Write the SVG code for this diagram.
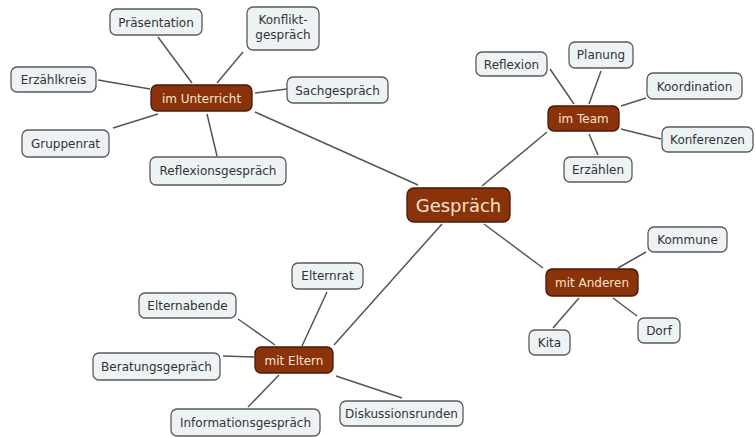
<svg xmlns="http://www.w3.org/2000/svg" width="756" height="437" viewBox="0 0 756 437">
<style>
.leaf rect{fill:#edf2f5;stroke:#5a5a5a;stroke-width:1.3}
.leaf text{fill:#333;font-family:"DejaVu Sans",Verdana,sans-serif;font-size:12px;text-anchor:middle}
.br rect{fill:#8a3208;stroke:#4a1808;stroke-width:1.3}
.br text{fill:#f7e4d2;font-family:"DejaVu Sans",Verdana,sans-serif;font-size:12px;text-anchor:middle}
.root text{font-size:18px}
#connectors line{stroke:#555;stroke-width:1.5}
</style>
<rect width="756" height="437" fill="#fff"/>
<g id="connectors">
<line x1="255" y1="112" x2="418" y2="185"/>
<line x1="482" y1="186" x2="547" y2="132"/>
<line x1="484" y1="224" x2="543" y2="268"/>
<line x1="442" y1="224" x2="334" y2="345"/>
<line x1="158" y1="37" x2="192" y2="83"/>
<line x1="243" y1="52" x2="217" y2="83"/>
<line x1="98" y1="80" x2="150" y2="89"/>
<line x1="255" y1="93" x2="287" y2="89"/>
<line x1="113" y1="128" x2="158" y2="114"/>
<line x1="207" y1="114" x2="217" y2="156"/>
<line x1="550" y1="69" x2="574" y2="104"/>
<line x1="601" y1="71" x2="589" y2="104"/>
<line x1="646" y1="98" x2="621" y2="106"/>
<line x1="661" y1="139" x2="621" y2="129"/>
<line x1="589" y1="134" x2="598" y2="155"/>
<line x1="646" y1="252" x2="618" y2="268"/>
<line x1="579" y1="298" x2="553" y2="328"/>
<line x1="613" y1="298" x2="637" y2="316"/>
<line x1="238" y1="319" x2="275" y2="345"/>
<line x1="327" y1="292" x2="302" y2="346"/>
<line x1="223" y1="356" x2="254" y2="357"/>
<line x1="279" y1="375" x2="248" y2="407"/>
<line x1="336" y1="376" x2="402" y2="398"/>
</g>
<g id="gespraech" class="br root"><rect x="407" y="188" width="103" height="34" rx="7"/><text x="458.5" y="211.5">Gespräch</text></g>
<g id="unterricht" class="br"><rect x="151" y="85" width="101" height="26" rx="6"/><text x="201.5" y="102.5">im Unterricht</text></g>
<g id="team" class="br"><rect x="548" y="106" width="71" height="25" rx="6"/><text x="583.5" y="123">im Team</text></g>
<g id="anderen" class="br"><rect x="546" y="269" width="92" height="27" rx="6"/><text x="592" y="286.5">mit Anderen</text></g>
<g id="eltern" class="br"><rect x="255" y="347" width="78" height="26" rx="6"/><text x="294" y="364.5">mit Eltern</text></g>
<g id="praesentation" class="leaf"><rect x="110" y="9" width="92" height="26" rx="6"/><text x="156" y="26.5">Präsentation</text></g>
<g id="konflikt" class="leaf"><rect x="247" y="7" width="72" height="43" rx="6"/><text x="283" y="24">Konflikt-</text><text x="283" y="39">gespräch</text></g>
<g id="erzaehlkreis" class="leaf"><rect x="11" y="67" width="85" height="25" rx="6"/><text x="53.5" y="84">Erzählkreis</text></g>
<g id="sachgespraech" class="leaf"><rect x="287" y="77" width="101" height="26" rx="6"/><text x="337.5" y="94.5">Sachgespräch</text></g>
<g id="gruppenrat" class="leaf"><rect x="22" y="130" width="87" height="27" rx="6"/><text x="65.5" y="147.5">Gruppenrat</text></g>
<g id="reflexionsgespraech" class="leaf"><rect x="150" y="157" width="136" height="28" rx="6"/><text x="218" y="175">Reflexionsgespräch</text></g>
<g id="reflexion" class="leaf"><rect x="476" y="52" width="71" height="24" rx="6"/><text x="511.5" y="68.5">Reflexion</text></g>
<g id="planung" class="leaf"><rect x="569" y="42" width="64" height="26" rx="6"/><text x="601" y="59">Planung</text></g>
<g id="koordination" class="leaf"><rect x="647" y="73" width="95" height="26" rx="6"/><text x="694.5" y="90.5">Koordination</text></g>
<g id="konferenzen" class="leaf"><rect x="662" y="127" width="91" height="25" rx="6"/><text x="707.5" y="144">Konferenzen</text></g>
<g id="erzaehlen" class="leaf"><rect x="564" y="157" width="68" height="25" rx="6"/><text x="598" y="174">Erzählen</text></g>
<g id="kommune" class="leaf"><rect x="648" y="227" width="79" height="25" rx="6"/><text x="687.5" y="244">Kommune</text></g>
<g id="dorf" class="leaf"><rect x="638" y="318" width="42" height="25" rx="6"/><text x="659" y="335">Dorf</text></g>
<g id="kita" class="leaf"><rect x="529" y="330" width="41" height="25" rx="6"/><text x="549.5" y="347">Kita</text></g>
<g id="elternrat" class="leaf"><rect x="292" y="263" width="71" height="26" rx="6"/><text x="327.5" y="280">Elternrat</text></g>
<g id="elternabende" class="leaf"><rect x="139" y="293" width="97" height="25" rx="6"/><text x="187.5" y="310">Elternabende</text></g>
<g id="beratung" class="leaf"><rect x="93" y="353" width="127" height="27" rx="6"/><text x="156.5" y="371">Beratungsgepräch</text></g>
<g id="information" class="leaf"><rect x="171" y="409" width="149" height="27" rx="6"/><text x="245.5" y="427">Informationsgespräch</text></g>
<g id="diskussion" class="leaf"><rect x="340" y="401" width="123" height="25" rx="6"/><text x="401.5" y="418">Diskussionsrunden</text></g>
</svg>
